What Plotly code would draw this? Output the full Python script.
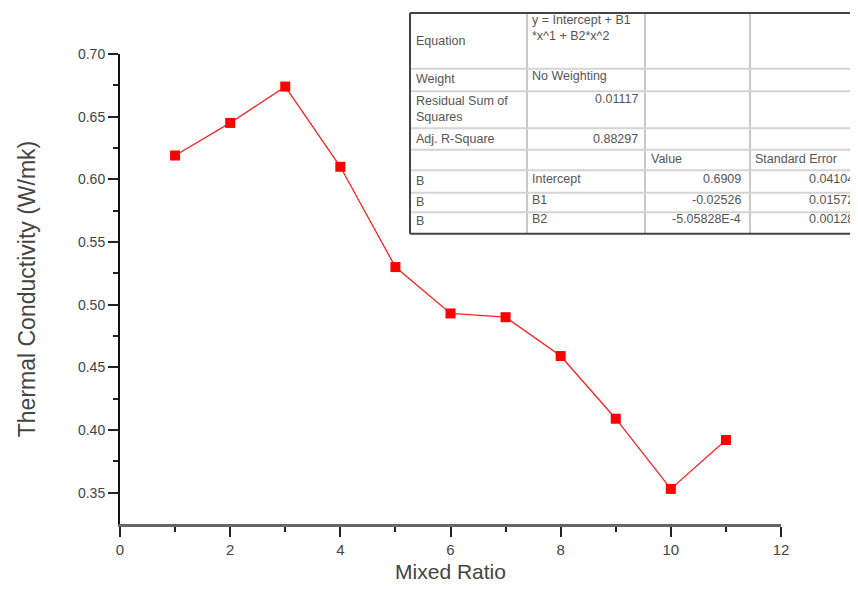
import plotly.graph_objects as go

# ---- data ----
mixed_ratio = [1, 2, 3, 4, 5, 6, 7, 8, 9, 10, 11]
conductivity = [0.619, 0.645, 0.674, 0.610, 0.530, 0.493, 0.490, 0.459, 0.409, 0.353, 0.392]

x_ticks = [0, 2, 4, 6, 8, 10, 12]
y_ticks = [0.35, 0.40, 0.45, 0.50, 0.55, 0.60, 0.65, 0.70]
y_tick_labels = ["0.35", "0.40", "0.45", "0.50", "0.55", "0.60", "0.65", "0.70"]

# fit-results table contents (rows of 4 columns)
table_col1 = ["Equation", "Weight", "Residual Sum of<br>Squares", "Adj. R-Square", "", "B", "B", "B"]
table_col2 = ["y = Intercept + B1<br>*x^1 + B2*x^2", "No Weighting", "0.01117", "0.88297", "", "Intercept", "B1", "B2"]
table_col3 = ["", "", "", "", "Value", "0.6909", "-0.02526", "-5.05828E-4"]
table_col4 = ["", "", "", "", "Standard Error", "0.04104", "0.01572", "0.00128"]

OFF = 8  # page body margin
W, H = 858 - OFF, 593 - OFF
ML, MR, MT, MB = 120 - OFF, 77, 54 - OFF, 58

def px(xp):
    return (xp - OFF - ML) / (W - ML - MR)

def py(yp):
    return 1 - (yp - OFF - MT) / (H - MT - MB)

fig = go.Figure()
fig.add_trace(go.Scatter(
    x=mixed_ratio, y=conductivity, mode="lines+markers",
    line=dict(color="#ff2020", width=1.3),
    marker=dict(symbol="square", size=10, color="#ff0000"),
    showlegend=False,
))

font = "Liberation Sans, Arial, sans-serif"
fig.update_layout(
    width=W, height=H,
    margin=dict(l=ML, r=MR, t=MT, b=MB),
    paper_bgcolor="white", plot_bgcolor="white",
    xaxis=dict(
        range=[0, 12], tickvals=x_ticks, ticks="outside", ticklen=10, tickwidth=2,
        tickcolor="#222", showline=True, linecolor="#666", linewidth=3,
        showgrid=False, zeroline=False,
        tickfont=dict(family=font, size=15, color="#444"),
        minor=dict(ticks="outside", ticklen=5, tickwidth=2, tickcolor="#222", dtick=1, tick0=0, showgrid=False),
        title=dict(text="Mixed Ratio", font=dict(family=font, size=21, color="#444"), standoff=8),
    ),
    yaxis=dict(
        range=[0.325, 0.70], tickvals=y_ticks, ticktext=y_tick_labels, ticks="outside",
        ticklen=10, tickwidth=2, tickcolor="#222", showline=True, linecolor="#111",
        linewidth=2, showgrid=False, zeroline=False,
        tickfont=dict(family=font, size=14, color="#444"),
        minor=dict(ticks="outside", ticklen=5, tickwidth=2, tickcolor="#222", tickvals=[0.375, 0.425, 0.475, 0.525, 0.575, 0.625, 0.675], showgrid=False),
        title=dict(text="Thermal Conductivity (W/mk)", font=dict(family=font, size=23, color="#444"), standoff=36),
    ),
)

# ---- table drawn with shapes + annotations (reference-pixel positions) ----
col_edges = [410, 527, 645, 750, 870]
row_edges = [12, 69, 92, 130, 152, 173, 196, 216, 238]

shapes = []
for xe in col_edges[1:-1]:
    shapes.append(dict(type="line", xref="paper", yref="paper", x0=px(xe), x1=px(xe),
                       y0=py(row_edges[0]), y1=py(row_edges[-1]), line=dict(color="#c8c8c8", width=2)))
for ye in row_edges[1:-1]:
    shapes.append(dict(type="line", xref="paper", yref="paper", x0=px(col_edges[0]), x1=px(col_edges[-1]),
                       y0=py(ye), y1=py(ye), line=dict(color="#d4d4d4", width=2)))
shapes.append(dict(type="line", xref="paper", yref="paper", x0=px(410), x1=px(870), y0=py(12), y1=py(12), line=dict(color="#444", width=2)))
shapes.append(dict(type="line", xref="paper", yref="paper", x0=px(410), x1=px(870), y0=py(238), y1=py(238), line=dict(color="#444", width=2)))
shapes.append(dict(type="line", xref="paper", yref="paper", x0=px(410), x1=px(410), y0=py(12), y1=py(238), line=dict(color="#444", width=2)))
fig.update_layout(shapes=shapes)

tfont = dict(family=font, size=12.5, color="#555")
ann = []
row_text_y = [41, 80, 110, 141, 161, 184, 205, 225]
for i in range(8):
    y = row_text_y[i]
    if table_col1[i]:
        ann.append(dict(x=px(414), y=py(y), text=table_col1[i], xanchor="left", yanchor="middle", align="left"))
    if table_col2[i]:
        if i in (2, 3):
            ann.append(dict(x=px(640), y=py(y if i == 3 else 100), text=table_col2[i], xanchor="right", yanchor="middle"))
        elif i == 0:
            ann.append(dict(x=px(530), y=py(27), text=table_col2[i], xanchor="left", yanchor="middle", align="left"))
        elif i == 1:
            ann.append(dict(x=px(530), y=py(77), text=table_col2[i], xanchor="left", yanchor="middle"))
        else:
            ann.append(dict(x=px(530), y=py(y - 2), text=table_col2[i], xanchor="left", yanchor="middle"))
    if table_col3[i]:
        if i == 4:
            ann.append(dict(x=px(649), y=py(y), text=table_col3[i], xanchor="left", yanchor="middle"))
        else:
            ann.append(dict(x=px(743), y=py(y - 2), text=table_col3[i], xanchor="right", yanchor="middle"))
    if table_col4[i]:
        if i == 4:
            ann.append(dict(x=px(753), y=py(y), text=table_col4[i], xanchor="left", yanchor="middle"))
        else:
            ann.append(dict(x=px(856), y=py(y - 2), text=table_col4[i], xanchor="right", yanchor="middle"))
for a in ann:
    a.update(xref="paper", yref="paper", showarrow=False, font=tfont)
fig.update_layout(annotations=ann)

fig.write_html("out.html")
